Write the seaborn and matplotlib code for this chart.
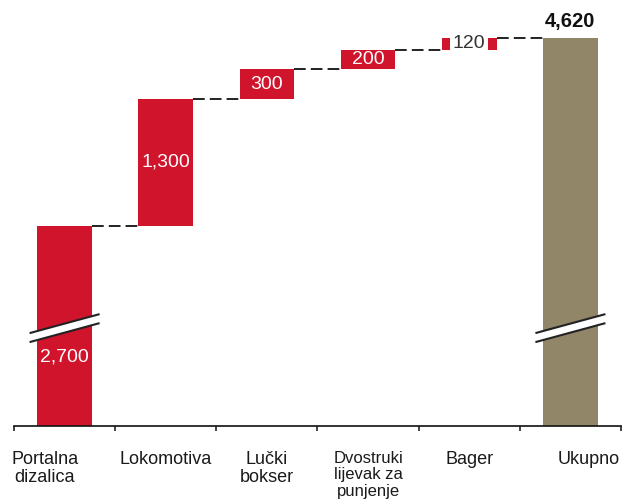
import numpy as np
import pandas as pd
import matplotlib
matplotlib.use("Agg")
import matplotlib.pyplot as plt
import matplotlib.transforms as mtransforms
from matplotlib.patches import Polygon
import seaborn as sns

# ---- data ----
categories = ["Portalna\ndizalica", "Lokomotiva", "Lučki\nbokser",
              "Dvostruki\nlijevak za\npunjenje", "Bager", "Ukupno"]
increments = [2700, 1300, 300, 200, 120]
value_labels = ["2,700", "1,300", "300", "200", "120"]
total_label = "4,620"

RED = "#D0142C"
TAN = "#918668"

total = sum(increments)
heights = increments + [total]
cum = np.cumsum(increments)
bottoms = [0] + list(cum[:-1]) + [0]

df = pd.DataFrame({"cat": categories, "height": heights})

sns.set_theme(style="white")
plt.rcParams["font.family"] = ["Liberation Sans", "DejaVu Sans"]

fig = plt.figure(figsize=(6.22, 5.04), dpi=100)
ax = fig.add_axes([14 / 622, 78 / 504, 607 / 622, 426 / 504])

BW = 0.54
sns.barplot(data=df, x="cat", y="height", bottom=bottoms, width=BW,
            color=RED, saturation=1, linewidth=0, ax=ax, zorder=2)
ax.patches[-1].set_facecolor(TAN)

ax.set_xlim(-0.5, 5.5)
ax.set_ylim(660, 5008)

# connectors
levels = list(cum)
for i, lv in enumerate(levels):
    ax.plot([i + BW / 2, i + 1 - BW / 2], [lv, lv], color="#111111",
            lw=1.3, dashes=(6.5, 2.8), zorder=1, solid_capstyle="butt")

# axis break marks on first and total bars
half = 0.346
for xb in [0, 5]:
    lo = [(xb - half, 1516), (xb + half, 1710)]
    hi = [(xb - half, 1608), (xb + half, 1802)]
    poly = Polygon([lo[0], lo[1], hi[1], hi[0]], closed=True,
                   facecolor="white", edgecolor="none", zorder=4)
    ax.add_patch(poly)
    for seg in (lo, hi):
        ax.plot([seg[0][0], seg[1][0]], [seg[0][1], seg[1][1]],
                color="#222222", lw=1.5, zorder=5, solid_capstyle="butt")

# value labels
label_y = [1360] + [b + h / 2 for b, h in zip(bottoms[1:5], increments[1:])]
for i, (txt, y) in enumerate(zip(value_labels, label_y)):
    if i == 4:
        ax.text(i, y, txt, ha="center", va="center", fontsize=14,
                color="#333333", zorder=6,
                bbox=dict(facecolor="white", edgecolor="none", pad=1.9))
    else:
        ax.text(i, y, txt, ha="center", va="center", fontsize=14,
                color="white", zorder=6)
ax.annotate(total_label, (5, total), xytext=(0, 8), textcoords="offset points",
            ha="center", va="baseline", fontsize=14.5, fontweight="bold",
            color="#111111")

# axes styling
for s in ["left", "top", "right"]:
    ax.spines[s].set_visible(False)
ax.spines["bottom"].set_color("#111111")
ax.spines["bottom"].set_linewidth(1.2)
ax.set_yticks([])
ax.set_xlabel("")
ax.set_ylabel("")
ax.set_xticks(range(len(categories)))
ax.set_xticklabels(categories, fontsize=13, color="#1a1a1a")
ax.set_xticks(np.arange(-0.5, len(categories), 1.0), minor=True)
ax.tick_params(axis="x", which="major", length=0, pad=18)
ax.tick_params(axis="x", which="minor", bottom=True, length=3.8, width=1.1,
               color="#111111", direction="out")

offsets = {0: -0.20, 5: 0.18}
for i, lab in enumerate(ax.get_xticklabels()):
    lab.set_linespacing(1.08)
    if i == 3:
        lab.set_fontsize(12)
        lab.set_linespacing(1.12)
    if i in offsets:
        lab.set_transform(lab.get_transform() +
                          mtransforms.ScaledTranslation(offsets[i], 0, fig.dpi_scale_trans))

fig.savefig("out.png", dpi=100)
